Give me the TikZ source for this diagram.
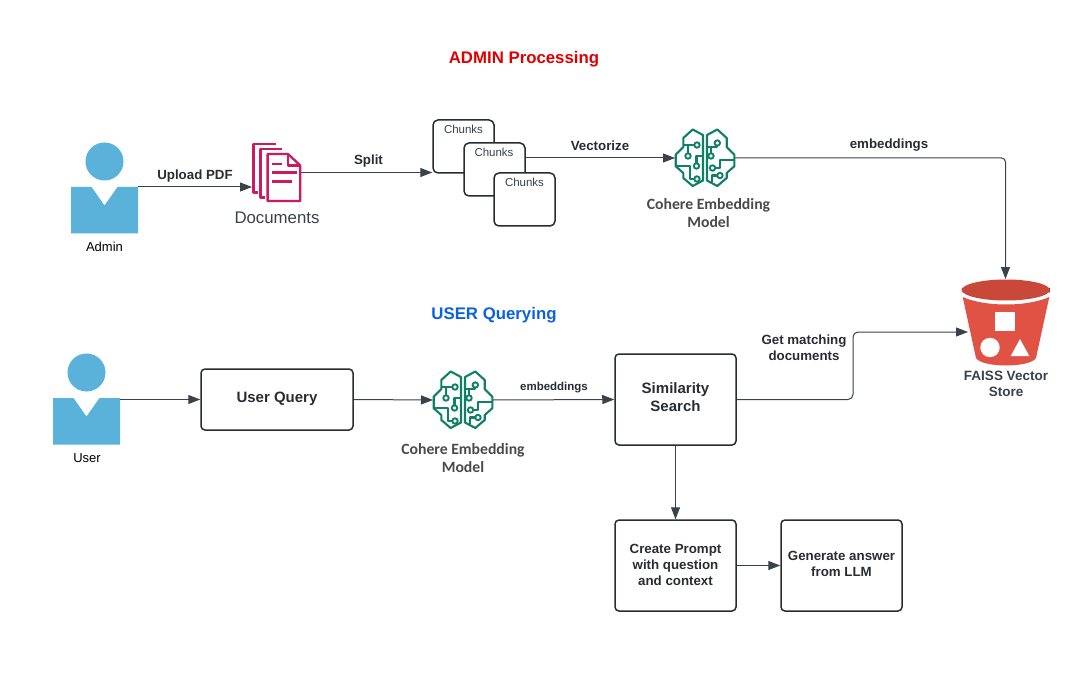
\documentclass[tikz,border=0pt]{standalone}
\usepackage{fontspec}
\setmainfont{Liberation Sans}
\newfontfamily\cohere{Carlito}
\usetikzlibrary{arrows.meta,calc}
\definecolor{ink}{HTML}{3A414A}
\definecolor{labelc}{HTML}{282C33}
\definecolor{pers}{HTML}{5AB2DB}
\definecolor{docc}{HTML}{CC1A5F}
\definecolor{brainc}{HTML}{0F7F66}
\definecolor{bucket}{HTML}{E05243}
\definecolor{bucketd}{HTML}{8C3123}
\definecolor{bucketm}{HTML}{C9483A}
\definecolor{cohc}{HTML}{4A4A4A}
\tikzset{
 px/.style={x=1pt,y=-1pt},
 conn/.style={draw=ink,line width=1pt,-{Triangle[length=12pt,width=9pt,fill=ink]}},
 flowbox/.style={draw=labelc,line width=1.5pt,rounded corners=4pt,fill=white,align=center,text=labelc,inner sep=0pt},
 chunkbox/.style={draw=labelc,line width=1.5pt,rounded corners=5pt,fill=white,minimum width=61pt,minimum height=53pt,inner sep=0pt},
 chunktext/.style={font=\fontsize{11.5}{13}\selectfont,text=ink,inner sep=0pt},
 lab/.style={font=\bfseries\fontsize{13.3}{16}\selectfont,text=labelc,align=center,inner sep=0pt},
 biglab/.style={font=\bfseries\fontsize{15}{18}\selectfont,text=labelc,align=center,inner sep=0pt},
 ghost/.style={inner sep=0pt,outer sep=0pt},
 brainline/.style={draw=brainc,line width=2.1pt,line join=round},
 braindot/.style={draw=brainc,line width=1.9pt,fill=white},
 cohlabel/.style={font=\cohere\bfseries\fontsize{15.7}{18}\selectfont,text=cohc,align=center,inner sep=0pt},
 doc/.style={draw=docc,line width=2.3pt,line join=round}
}
\newcommand{\persondraw}[2]{%
 \fill[pers] (#1,#2-25.5) circle[radius=19];
 \fill[pers] (#1-33.5,#2) -- (#1-13,#2) -- (#1,#2+18.5) -- (#1+13,#2) -- (#1+33.5,#2) -- (#1+33.5,#2+46.5) -- (#1-33.5,#2+46.5) -- cycle;
}
\newcommand{\braindraw}[2]{%
 \begin{scope}[shift={(#1,#2)}]
 \draw[brainline] (-2,-23) -- (-12.3,-28.5) -- (-21.7,-20) -- (-21.7,-11) -- (-29.3,-3.3) -- (-29.3,8.3) -- (-21.7,15) -- (-21.7,20) -- (-12.3,28) -- (-2,22.5) -- cycle;
 \draw[brainline] (2,-23) -- (12.3,-28.5) -- (21.7,-20) -- (21.7,-11) -- (29.3,-3.3) -- (29.3,8.3) -- (21.7,15) -- (21.7,20) -- (12.3,28) -- (2,22.5) -- cycle;
 \draw[brainline] (-21.7,-13) -- (-8,-13);
 \draw[brainline] (-17,-13) -- (-17,-2);
 \draw[brainline] (-2,-2) -- (-8.5,-2) -- (-8.5,8);
 \draw[brainline] (-29.3,8.3) -- (-15,8.3) -- (-15,21) -- (-8,21);
 \draw[brainline] (2,-11) -- (12.3,-11) -- (12.3,-15);
 \draw[brainline] (6,-11) -- (6,-2);
 \draw[brainline] (7.5,10) -- (15,10) -- (15,1.7) -- (29.3,1.7);
 \draw[brainline] (15,17.5) -- (7.3,17.5) -- (7.3,24);
 \draw[braindot] (-8,-13) circle[radius=2.7];
 \draw[braindot] (-17,-2) circle[radius=2.7];
 \draw[braindot] (-8.5,8) circle[radius=2.7];
 \draw[braindot] (-8,21) circle[radius=2.7];
 \draw[braindot] (12.3,-15) circle[radius=2.7];
 \draw[braindot] (6,-2) circle[radius=2.7];
 \draw[braindot] (7.5,10) circle[radius=2.7];
 \draw[braindot] (15,17.5) circle[radius=2.7];
 \end{scope}
}
\begin{document}
\begin{tikzpicture}[px]
\useasboundingbox (0,0) rectangle (1080,690);
\fill[white] (0,0) rectangle (1080,690);
% titles
\node[ghost,font=\bfseries\fontsize{16.8}{20}\selectfont,text={rgb,255:red,224;green,0;blue,0}] (titleadmin) at (524,59) {ADMIN Processing};
\node[ghost,font=\bfseries\fontsize{16.8}{20}\selectfont,text={rgb,255:red,10;green,98;blue,224}] (titleuser) at (494,315.5) {USER Querying};
% anchor nodes
\node[ghost,minimum width=67pt,minimum height=46.5pt] (admin) at (104.5,210.25) {};
\node[ghost,minimum width=67pt,minimum height=46.5pt] (user) at (86.5,421.25) {};
\node[ghost,minimum width=49pt,minimum height=59pt] (docs) at (276.5,172.5) {};
\node[ghost,minimum width=60pt,minimum height=60pt] (brainA) at (705,158) {};
\node[ghost,minimum width=60pt,minimum height=60pt] (brainB) at (463,400) {};
\node[ghost,minimum width=88pt,minimum height=84pt] (store) at (1005.5,321) {};
% persons
\persondraw{104.5}{187}
\persondraw{86.5}{398}
\node[ghost,font=\fontsize{13}{16}\selectfont,text=black] (adminlabel) at (104.5,246.5) {Admin};
\node[ghost,font=\fontsize{13}{16}\selectfont,text=black] (userlabel) at (87,458) {User};
% documents icon
\draw[doc] (276,143.8) -- (253.5,143.8) -- (253.5,192.5) -- (258,192.5);
\draw[doc] (281.5,148.8) -- (260.5,148.8) -- (260.5,197.5) -- (265,197.5);
\draw[doc] (267.6,154) -- (288,154) -- (300.3,165.5) -- (300.3,201) -- (267.6,201) -- cycle;
\draw[doc] (288,154) -- (288,165.5) -- (300.3,165.5);
\draw[doc] (272,164) -- (282,164);
\draw[doc] (272,172.5) -- (297,172.5);
\draw[doc] (272,181.5) -- (292,181.5);
\node[ghost,font=\fontsize{16.8}{19}\selectfont,text=ink] (docslabel) at (277,218) {Documents};
% chunks
\node[chunkbox] (c1) at (463.5,146.5) {};
\node[chunkbox] (c2) at (494.5,169.5) {};
\node[chunkbox] (c3) at (524.5,199.5) {};
\node[chunktext] at (463.5,129) {Chunks};
\node[chunktext] at (494,152) {Chunks};
\node[chunktext] at (524.5,182) {Chunks};
% brains
\braindraw{705}{158}
\braindraw{463}{400}
\node[cohlabel] (cohA) at (708.5,213) {Cohere Embedding\\Model};
\node[cohlabel] (cohB) at (463,458) {Cohere Embedding\\Model};
% boxes
\node[flowbox,minimum width=152pt,minimum height=61pt] (query) at (277,399.5) {};
\node[biglab] at (277,398.5) {User Query};
\node[flowbox,minimum width=121pt,minimum height=91pt] (sim) at (675.5,399.5) {};
\node[biglab] at (675.5,397.5) {Similarity\\Search};
\node[flowbox,minimum width=121pt,minimum height=91pt] (prompt) at (675.5,565.5) {};
\node[lab] at (675.5,564.5) {Create Prompt\\with question\\and context};
\node[flowbox,minimum width=121pt,minimum height=91pt] (gen) at (841.5,565.5) {};
\node[lab] at (841.5,564) {Generate answer\\from LLM};
% bucket
\fill[bucket] (962.7,297) .. controls (985,307) and (1027,307) .. (1049.3,297) -- (1036,358) .. controls (1030,368) and (982,368) .. (976,358) -- cycle;
\fill[bucketd] (961.8,288) -- (961.8,293) arc[start angle=180,end angle=360,x radius=44,y radius=10] -- (1049.8,288) -- cycle;
\fill[bucketm] (1005.8,290) ellipse[x radius=44,y radius=10.5];
\fill[white] (995,312) rectangle (1015,331);
\fill[white] (990,347.5) circle[radius=9.7];
\fill[white] (1010.7,356) -- (1029.3,356) -- (1020,339) -- cycle;
\node[lab,font=\bfseries\fontsize{13.5}{16}\selectfont,text=ink] (storelabel) at (1006,384) {FAISS Vector\\Store};
% connectors
\draw[conn] (admin.north east) -- (docs.west |- admin.north east);
\draw[conn] (docs.east) -- (c1.west |- docs.east);
\draw[conn] (c2.east |- brainA.west) -- (brainA.west);
\draw[conn,rounded corners=4pt] (brainA.east) -- (store.north |- brainA.east) -- (store.north);
\draw[conn] (user.north east |- query.west) -- (query.west);
\draw[conn] (query.east) -- (brainB.west);
\draw[conn] (brainB.east) -- (sim.west);
\draw[conn,rounded corners=5pt] (sim.east) -- (853,399.5) -- (853,332) -- (968,332);
\draw[conn] (sim.south) -- (prompt.north);
\draw[conn] (prompt.east) -- (gen.west);
% labels
\node[lab] at (195,176.5) {Upload PDF};
\node[lab] at (368.5,161) {Split};
\node[lab] at (600,146) {Vectorize};
\node[lab] at (889,145.5) {embeddings};
\node[lab,font=\bfseries\fontsize{11.5}{14}\selectfont] at (554,388) {embeddings};
\node[lab] at (804,347.5) {Get matching\\documents};
\end{tikzpicture}
\end{document}
